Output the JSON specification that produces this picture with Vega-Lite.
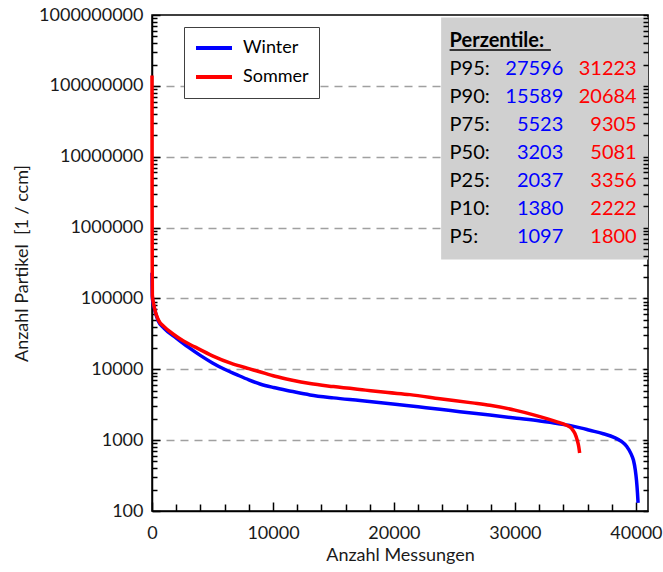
{
  "$schema": "https://vega.github.io/schema/vega-lite/v6.json",
  "width": 496,
  "height": 496,
  "autosize": {"type": "none"},
  "padding": {"left": 152, "top": 15, "right": 15, "bottom": 61},
  "background": "white",
  "config": {
    "font": "Lato",
    "view": {"stroke": "black", "strokeWidth": 1.5},
    "axis": {
      "labelFont": "Lato",
      "labelFontSize": 18,
      "labelColor": "#1a1a1a",
      "titleFont": "Lato",
      "titleFontSize": 18,
      "titleFontWeight": "normal",
      "titleColor": "#1a1a1a",
      "domainColor": "black",
      "domainWidth": 1.5,
      "ticks": true,
      "tickColor": "black",
      "tickWidth": 1.5,
      "tickOpacity": 1,
      "labelFlush": false,
      "labelBound": false
    }
  },
  "datasets": {
    "curves": [
      {"season": "Winter", "n": 0, "value": 230000},
      {"season": "Winter", "n": 10, "value": 150000},
      {"season": "Winter", "n": 30, "value": 100000},
      {"season": "Winter", "n": 200, "value": 72000},
      {"season": "Winter", "n": 520, "value": 48000},
      {"season": "Winter", "n": 1000, "value": 38000},
      {"season": "Winter", "n": 2010, "value": 27596},
      {"season": "Winter", "n": 3000, "value": 20500},
      {"season": "Winter", "n": 4020, "value": 15589},
      {"season": "Winter", "n": 5000, "value": 12300},
      {"season": "Winter", "n": 6000, "value": 10000},
      {"season": "Winter", "n": 7000, "value": 8400},
      {"season": "Winter", "n": 8000, "value": 7100},
      {"season": "Winter", "n": 8930, "value": 6200},
      {"season": "Winter", "n": 10050, "value": 5523},
      {"season": "Winter", "n": 11500, "value": 4900},
      {"season": "Winter", "n": 13060, "value": 4350},
      {"season": "Winter", "n": 15000, "value": 3950},
      {"season": "Winter", "n": 17190, "value": 3620},
      {"season": "Winter", "n": 20100, "value": 3203},
      {"season": "Winter", "n": 22000, "value": 2950},
      {"season": "Winter", "n": 23800, "value": 2730},
      {"season": "Winter", "n": 25450, "value": 2520},
      {"season": "Winter", "n": 27930, "value": 2260},
      {"season": "Winter", "n": 30150, "value": 2037},
      {"season": "Winter", "n": 32070, "value": 1860},
      {"season": "Winter", "n": 33500, "value": 1720},
      {"season": "Winter", "n": 34600, "value": 1600},
      {"season": "Winter", "n": 35500, "value": 1480},
      {"season": "Winter", "n": 36180, "value": 1380},
      {"season": "Winter", "n": 37300, "value": 1230},
      {"season": "Winter", "n": 38190, "value": 1097},
      {"season": "Winter", "n": 38800, "value": 960},
      {"season": "Winter", "n": 39230, "value": 820},
      {"season": "Winter", "n": 39600, "value": 640},
      {"season": "Winter", "n": 39800, "value": 520},
      {"season": "Winter", "n": 39950, "value": 380},
      {"season": "Winter", "n": 40050, "value": 270},
      {"season": "Winter", "n": 40130, "value": 180},
      {"season": "Winter", "n": 40180, "value": 130},
      {"season": "Sommer", "n": 0, "value": 140000000},
      {"season": "Sommer", "n": 3, "value": 20000000},
      {"season": "Sommer", "n": 8, "value": 2000000},
      {"season": "Sommer", "n": 15, "value": 500000},
      {"season": "Sommer", "n": 22, "value": 200000},
      {"season": "Sommer", "n": 30, "value": 110000},
      {"season": "Sommer", "n": 190, "value": 75000},
      {"season": "Sommer", "n": 520, "value": 50000},
      {"season": "Sommer", "n": 1000, "value": 40000},
      {"season": "Sommer", "n": 1765, "value": 31223},
      {"season": "Sommer", "n": 2600, "value": 25000},
      {"season": "Sommer", "n": 3530, "value": 20684},
      {"season": "Sommer", "n": 5000, "value": 15500},
      {"season": "Sommer", "n": 6500, "value": 12200},
      {"season": "Sommer", "n": 8000, "value": 10200},
      {"season": "Sommer", "n": 8825, "value": 9305},
      {"season": "Sommer", "n": 10170, "value": 7960},
      {"season": "Sommer", "n": 11500, "value": 7050},
      {"season": "Sommer", "n": 13060, "value": 6280},
      {"season": "Sommer", "n": 15000, "value": 5700},
      {"season": "Sommer", "n": 17650, "value": 5081},
      {"season": "Sommer", "n": 19500, "value": 4700},
      {"season": "Sommer", "n": 21320, "value": 4390},
      {"season": "Sommer", "n": 23800, "value": 3850},
      {"season": "Sommer", "n": 26475, "value": 3356},
      {"season": "Sommer", "n": 27930, "value": 3100},
      {"season": "Sommer", "n": 30000, "value": 2650},
      {"season": "Sommer", "n": 31770, "value": 2222},
      {"season": "Sommer", "n": 32700, "value": 2000},
      {"season": "Sommer", "n": 33535, "value": 1800},
      {"season": "Sommer", "n": 34270, "value": 1620},
      {"season": "Sommer", "n": 34700, "value": 1450},
      {"season": "Sommer", "n": 34950, "value": 1250},
      {"season": "Sommer", "n": 35150, "value": 1000},
      {"season": "Sommer", "n": 35280, "value": 800},
      {"season": "Sommer", "n": 35350, "value": 660}
    ],
    "perzentile": [
      {"p": "Perzentile:"},
      {"p": "P95:", "winter": 27596, "sommer": 31223},
      {"p": "P90:", "winter": 15589, "sommer": 20684},
      {"p": "P75:", "winter": 5523, "sommer": 9305},
      {"p": "P50:", "winter": 3203, "sommer": 5081},
      {"p": "P25:", "winter": 2037, "sommer": 3356},
      {"p": "P10:", "winter": 1380, "sommer": 2222},
      {"p": "P5:", "winter": 1097, "sommer": 1800}
    ]
  },
  "layer": [
    {
      "layer": [
        {
          "data": {"name": "curves"},
          "transform": [{"filter": "datum.season == 'Winter'"}],
          "mark": {"type": "line", "strokeWidth": 3.5, "interpolate": "monotone"},
          "encoding": {
            "x": {
              "field": "n",
              "type": "quantitative",
              "scale": {"domain": [0, 41000], "nice": false},
              "axis": {
                "orient": "bottom",
                "title": "Anzahl Messungen",
                "grid": false,
                "ticks": true,
                "values": [0, 10000, 20000, 30000, 40000],
                "format": "d",
                "labelOverlap": false,
                "tickSize": -9,
                "labelPadding": 22,
                "titleX": 248,
                "titleY": 44,
                "titleBaseline": "middle",
                "titleAlign": "center"
              }
            },
            "y": {
              "field": "value",
              "type": "quantitative",
              "scale": {"type": "log", "domain": [100, 1000000000], "nice": false},
              "axis": {
                "orient": "left",
                "title": "Anzahl Partikel\u00a0 [1 / ccm]",
                "ticks": true,
                "values": [100,200,300,400,500,600,700,800,900,1000,2000,3000,4000,5000,6000,7000,8000,9000,10000,20000,30000,40000,50000,60000,70000,80000,90000,100000,200000,300000,400000,500000,600000,700000,800000,900000,1000000,2000000,3000000,4000000,5000000,6000000,7000000,8000000,9000000,10000000,20000000,30000000,40000000,50000000,60000000,70000000,80000000,90000000,100000000,200000000,300000000,400000000,500000000,600000000,700000000,800000000,900000000,1000000000],
                "format": "d",
                "labelExpr": "datum.value == pow(10, round(log(datum.value) / LN10)) ? datum.label : ''",
                "labelOverlap": false,
                "tickSize": {"condition": {"test": "datum.value == pow(10, round(log(datum.value) / LN10))", "value": -8}, "value": -5},
                "labelPadding": 17,
                "grid": true,
                "gridColor": "#a0a0a0",
                "gridWidth": 1.5,
                "gridDash": [8, 6],
                "gridOpacity": {"condition": {"test": "datum.value == pow(10, round(log(datum.value) / LN10)) && datum.value > 100 && datum.value < 1000000000", "value": 1}, "value": 0},
                "titleX": -130,
                "titleY": 248,
                "titleAngle": 270,
                "titleAlign": "center",
                "titleBaseline": "middle"
              }
            },
            "color": {
              "field": "season",
              "type": "nominal",
              "scale": {"domain": ["Winter", "Sommer"], "range": ["#0000ff", "#ff0000"]},
              "legend": {
                "title": null,
                "orient": "none",
                "legendX": 32,
                "legendY": 12,
                "symbolType": "stroke",
                "symbolSize": 1296,
                "symbolStrokeWidth": 4,
                "labelFont": "Lato",
                "labelFontSize": 18,
                "labelColor": "black",
                "labelOffset": 9,
                "padding": 10,
                "rowPadding": 7,
                "clipHeight": 22,
                "strokeColor": "#404040",
                "fillColor": "white"
              }
            }
          }
        },
        {
          "data": {"name": "curves"},
          "transform": [{"filter": "datum.season == 'Sommer'"}],
          "mark": {"type": "line", "strokeWidth": 3.5, "interpolate": "monotone"},
          "encoding": {
            "x": {
              "field": "n",
              "type": "quantitative",
              "axis": {
                "orient": "bottom",
                "title": null,
                "labels": false,
                "domain": false,
                "grid": false,
                "ticks": true,
                "offset": -7,
                "values": [2000,4000,6000,8000,12000,14000,16000,18000,22000,24000,26000,28000,32000,34000,36000,38000],
                "tickSize": 7
              }
            },
            "y": {"field": "value", "type": "quantitative", "axis": null},
            "color": {"field": "season", "type": "nominal"}
          }
        },
        {
          "data": {"values": [{}]},
          "mark": {"type": "rect", "color": "#d0d0d0"},
          "encoding": {
            "x": {"datum": 23900, "type": "quantitative", "axis": null},
            "x2": {"datum": 41000},
            "y": {
              "datum": 920000000,
              "type": "quantitative",
              "axis": {
                "orient": "right",
                "labels": false,
                "title": null,
                "grid": false,
                "domain": false,
                "ticks": true,
                "zindex": 1,
                "offset": -5,
                "values": [100,200,300,400,500,600,700,800,900,1000,2000,3000,4000,5000,6000,7000,8000,9000,10000,20000,30000,40000,50000,60000,70000,80000,90000,100000,200000,300000,400000,500000,600000,700000,800000,900000,1000000,2000000,3000000,4000000,5000000,6000000,7000000,8000000,9000000,10000000,20000000,30000000,40000000,50000000,60000000,70000000,80000000,90000000,100000000,200000000,300000000,400000000,500000000,600000000,700000000,800000000,900000000,1000000000],
                "tickSize": 5
              }
            },
            "y2": {"datum": 354000}
          }
        }
      ],
      "resolve": {"axis": {"x": "independent", "y": "independent"}}
    },
    {
      "data": {"name": "perzentile"},
      "layer": [
        {
          "transform": [{"filter": "datum.p != 'Perzentile:'"}],
          "mark": {"type": "text", "align": "left", "baseline": "middle", "font": "Lato", "fontSize": 20, "color": "black"},
          "encoding": {
            "x": {"datum": 24600, "type": "quantitative", "axis": null},
            "y": {
              "field": "p",
              "type": "ordinal",
              "scale": {"type": "point", "domain": ["Perzentile:", "P95:", "P90:", "P75:", "P50:", "P25:", "P10:", "P5:"], "range": [26, 222], "padding": 0},
              "axis": null
            },
            "text": {"field": "p"}
          }
        },
        {
          "transform": [{"filter": "isValid(datum.winter)"}],
          "mark": {"type": "text", "align": "right", "baseline": "middle", "font": "Lato", "fontSize": 20, "color": "#0000ff"},
          "encoding": {
            "x": {"datum": 34000, "type": "quantitative", "axis": null},
            "y": {"field": "p", "type": "ordinal", "axis": null},
            "text": {"field": "winter", "type": "quantitative", "format": "d"}
          }
        },
        {
          "transform": [{"filter": "isValid(datum.sommer)"}],
          "mark": {"type": "text", "align": "right", "baseline": "middle", "font": "Lato", "fontSize": 20, "color": "#ff0000"},
          "encoding": {
            "x": {"datum": 40066, "type": "quantitative", "axis": null},
            "y": {"field": "p", "type": "ordinal", "axis": null},
            "text": {"field": "sommer", "type": "quantitative", "format": "d"}
          }
        },
        {
          "transform": [{"filter": "datum.p == 'Perzentile:'"}],
          "mark": {"type": "text", "align": "left", "baseline": "middle", "font": "Lato", "fontSize": 20, "fontWeight": "bold", "color": "black"},
          "encoding": {
            "x": {"datum": 24600, "type": "quantitative", "axis": null},
            "y": {"field": "p", "type": "ordinal", "axis": null},
            "text": {"field": "p"}
          }
        },
        {
          "transform": [{"filter": "datum.p == 'Perzentile:'"}],
          "mark": {"type": "rule", "color": "black", "strokeWidth": 1.5, "yOffset": 9},
          "encoding": {
            "x": {"datum": 24600, "type": "quantitative", "axis": null},
            "x2": {"datum": 32970},
            "y": {"field": "p", "type": "ordinal", "axis": null}
          }
        }
      ]
    }
  ],
  "resolve": {"scale": {"y": "independent"}}
}
